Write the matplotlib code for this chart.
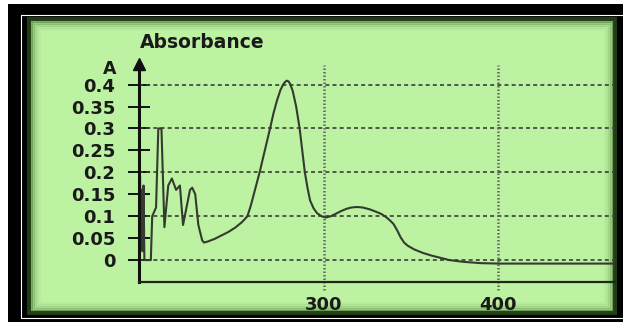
"""Absorbance spectrum redrawn on a green instrument-style panel."""

import matplotlib.pyplot as plt
from matplotlib.lines import Line2D
from matplotlib.patches import Rectangle

W, H = 623, 324

# wavelength (nm) and absorbance
wavelength = [
    194.3, 194.7, 195.2, 195.7, 196.3, 196.8, 200.5, 200.8, 201.3, 203.5,
    204.8, 206.6, 208.3, 210.5, 212.6, 215.0, 217.2, 219.0, 221.0, 223.0,
    224.3, 226.0, 227.8, 230.0, 231.0, 233.0, 237.0, 241.0, 245.0, 249.0,
    253.0, 256.0, 258.0, 260.0, 263.0, 266.0, 269.0, 271.0, 273.0, 275.0,
    276.5, 277.6, 278.7, 279.7, 280.6, 282.0, 284.0, 286.0, 287.5, 289.0,
    290.5, 292.0, 294.0, 296.0, 298.5, 301.0, 304.0, 307.0, 310.0, 313.0,
    316.0, 319.0, 322.0, 326.0, 330.0, 333.0, 336.0, 338.0, 340.0, 342.0,
    344.0, 346.0, 348.0, 352.0, 357.0, 362.0, 367.0, 372.0, 380.0, 390.0,
    400.0, 467.0,
]
absorbance = [
    0.19, 0.06, 0.16, 0.02, 0.17, 0.0, 0.0, 0.04, 0.10, 0.12,
    0.30, 0.30, 0.075, 0.17, 0.186, 0.16, 0.17, 0.08, 0.12, 0.16,
    0.165, 0.15, 0.08, 0.045, 0.04, 0.042, 0.048, 0.056, 0.064, 0.074,
    0.087, 0.10, 0.125, 0.155, 0.20, 0.25, 0.30, 0.335, 0.364, 0.388,
    0.40, 0.406, 0.409, 0.407, 0.401, 0.386, 0.35, 0.30, 0.25, 0.20,
    0.165, 0.136, 0.118, 0.107, 0.10, 0.097, 0.10, 0.106, 0.112, 0.117,
    0.12, 0.121, 0.12, 0.116, 0.11, 0.105, 0.097, 0.09, 0.082, 0.068,
    0.052, 0.04, 0.033, 0.024, 0.016, 0.01, 0.005, 0.0, -0.004, -0.007,
    -0.008, -0.008,
]

y_ticks = [0, 0.05, 0.1, 0.15, 0.2, 0.25, 0.3, 0.35, 0.4]
y_labels = ["0", "0.05", "0.1", "0.15", "0.2", "0.25", "0.3", "0.35", "0.4"]
grid_y = [0, 0.1, 0.2, 0.3, 0.4]
x_ticks = [300, 400]
x_labels = ["300", "400"]


def px_rect(x0, y0, x1, y1, **kw):
    """Rectangle in figure pixels (origin top-left)."""
    return Rectangle((x0 / W, 1 - y1 / H), (x1 - x0) / W, (y1 - y0) / H,
                     transform=fig.transFigure, **kw)


fig = plt.figure(figsize=(W / 100, H / 100), dpi=100, facecolor="white")

# frame: black border, thin white inset line, green panel with dark rim
fig.patches.append(px_rect(8, 4, 640, 322, facecolor="black", edgecolor="none"))
xs = [700 / W, 21 / W, 21 / W, 700 / W]
ys = [1 - 15 / H, 1 - 15 / H, 1 - 318 / H, 1 - 318 / H]
fig.lines.append(Line2D(xs, ys, transform=fig.transFigure,
                        color="white", lw=0.8))
fig.patches.append(px_rect(29, 19, 615, 313, facecolor="#bcf2a1",
                           edgecolor="#1f3a14", lw=3))
for i, a in enumerate([0.4, 0.26, 0.15, 0.08, 0.04]):
    d = 2 + 2 * i
    fig.patches.append(px_rect(29 + d, 19 + d, 615 - d, 313 - d,
                               facecolor="none", edgecolor="#2d5a1c",
                               lw=2, alpha=a))

ax = fig.add_axes([139 / W, 1 - 282 / H, (615 - 139) / W, (282 - 64) / H])
ax.set_zorder(5)
ax.set_facecolor("none")
ax.set_xlim(193.7, 467.2)
ax.set_ylim(-0.05, 0.447)

for s in ["top", "right"]:
    ax.spines[s].set_visible(False)
ax.spines["left"].set_color("#111")
ax.spines["left"].set_linewidth(2.2)
ax.spines["bottom"].set_color("#1a2a14")
ax.spines["bottom"].set_linewidth(1.6)

# arrow head on the absorbance axis
ax.plot([193.7], [0.447], marker="^", ms=8, color="#111", clip_on=False)

# dashed horizontal guides and dotted vertical guides
ax.hlines(grid_y, 193.7, 467.2, colors="#3a3f38", lw=1.2,
          linestyles=(0, (2.4, 1.9)))
ax.vlines(x_ticks, -0.068, 0.445, colors="#666", lw=1.8,
          linestyles=(0, (0.6, 0.8)), clip_on=False)

ax.plot(wavelength, absorbance, color="#333b30", lw=1.5)

ax.set_yticks(y_ticks, y_labels)
ax.set_xticks(x_ticks, x_labels)
ax.tick_params(axis="y", direction="inout", length=16, width=1.4,
               color="#111", pad=9)
ax.tick_params(axis="x", length=0, pad=10)
for lab in ax.get_yticklabels() + ax.get_xticklabels():
    lab.set_fontweight("bold")
    lab.set_fontsize(13)
    lab.set_color("#1a1a1a")

fig.text(110 / W, 1 - 69 / H, "A", ha="center", va="center",
         fontsize=12.5, fontweight="bold", color="#1a1a1a")
fig.text(140 / W, 1 - 42 / H, "Absorbance", ha="left", va="center",
         fontsize=13.5, fontweight="bold", color="#1a1a1a")

fig.savefig("out.png", dpi=100, facecolor="white")
